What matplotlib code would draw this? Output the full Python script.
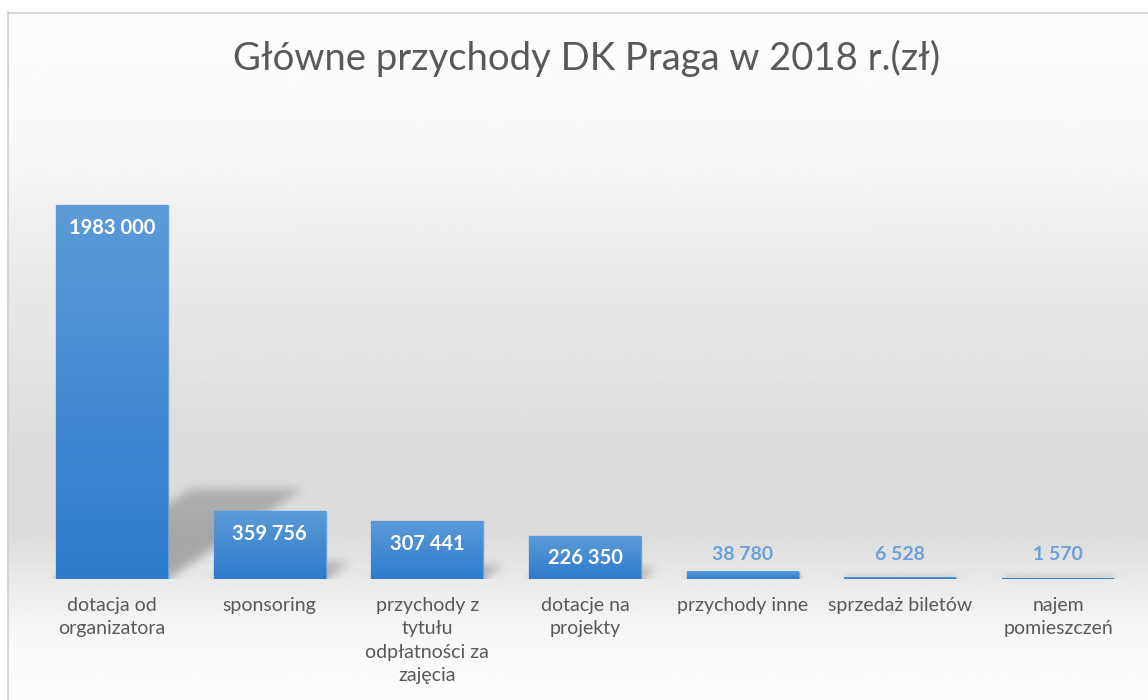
import numpy as np
import matplotlib.pyplot as plt
from matplotlib.colors import LinearSegmentedColormap

categories = ['dotacja od\norganizatora', 'sponsoring',
              'przychody z\ntytułu\nodpłatności za\nzajęcia', 'dotacje na\nprojekty',
              'przychody inne', 'sprzedaż biletów', 'najem\npomieszczeń']
values = [1983000, 359756, 307441, 226350, 38780, 6528, 1570]
value_labels = ['1983 000', '359 756', '307 441', '226 350', '38 780', '6 528', '1 570']
title = 'Główne przychody DK Praga w 2018 r.(zł)'

W, H = 1148, 700
plt.rcParams['font.family'] = ['Lato', 'DejaVu Sans']
fig = plt.figure(figsize=(W / 100, H / 100), dpi=100)

# grey gradient background of the chart area
bg = fig.add_axes([0, 0, 1, 1])
stops_y = [12, 120, 300, 450, 530, 590, 640, 700]
stops_v = [0.99, 0.975, 0.905, 0.86, 0.86, 0.93, 0.975, 0.99]
col = np.interp(np.arange(H), stops_y, stops_v)
bg.imshow(np.repeat(col[:, None], 2, axis=1), cmap='gray', vmin=0, vmax=1,
          extent=(7, W + 10, H, 12), aspect='auto', interpolation='bilinear')
bg.plot([7.5, 7.5], [12, H], color='#d0d0d0', lw=1.2)
bg.plot([7.5, W], [12.5, 12.5], color='#d0d0d0', lw=1.2)
bg.set_xlim(0, W)
bg.set_ylim(H, 0)
bg.axis('off')

fig.text(587 / W, 1 - 58 / H, title, ha='center', va='center',
         fontsize=27.5, color='#595959')

# main axes
ax_w, ax_h = 1104, 479
ax = fig.add_axes([33 / W, (H - 579) / H, ax_w / W, ax_h / H])
ax.patch.set_alpha(0)
ymax = 2540000
x = np.arange(len(values))
bw = 0.71
ax.set_xlim(-0.5, len(values) - 0.5)
ax.set_ylim(0, ymax)

ppx = ax_w / len(values)
ppy = ax_h / ymax

# soft perspective shadows behind the bars
gy, gx = np.mgrid[0:ax_h, 0:ax_w].astype(float)
shadow = np.zeros((ax_h, ax_w))
for i, v in enumerate(values):
    hp = v * ppy
    r = max(0.24 * hp, 1.0)
    s = 0.36 * hp
    xl = (i + 0.5 - bw / 2) * ppx
    xr = (i + 0.5 + bw / 2) * ppx
    off = s * gy / r
    m = (gy < r) & (gx >= xl + off) & (gx <= xr + off)
    shadow = np.maximum(shadow, m * (1 - 0.25 * gy / r))


def box_blur(a, k, axis):
    c = np.cumsum(np.pad(a, [(k + 1, k) if ax_ == axis else (0, 0) for ax_ in range(2)],
                         mode='edge'), axis=axis)
    if axis == 0:
        return (c[2 * k + 1:] - c[:-2 * k - 1]) / (2 * k + 1)
    return (c[:, 2 * k + 1:] - c[:, :-2 * k - 1]) / (2 * k + 1)


for _ in range(3):
    shadow = box_blur(shadow, 4, 0)
    shadow = box_blur(shadow, 4, 1)

rgba = np.zeros((ax_h, ax_w, 4))
rgba[..., :3] = 0.3
rgba[..., 3] = shadow * 0.42
ax.imshow(rgba, extent=(-0.5, len(values) - 0.5, 0, ymax), origin='lower',
          aspect='auto', zorder=1, interpolation='bilinear')

bars = ax.bar(x, values, width=bw, color='#3a85d0', edgecolor='#6aa3dc',
              linewidth=1.0, zorder=2)

bar_cmap = LinearSegmentedColormap.from_list('barg', ['#2e7bcc', '#5b9bd8'])
grad = np.linspace(0, 1, 100)[:, None]
for b in bars:
    x0 = b.get_x()
    ax.imshow(grad, cmap=bar_cmap, origin='lower', aspect='auto',
              extent=(x0, x0 + b.get_width(), 0, b.get_height()), zorder=3)

for i, (v, lab) in enumerate(zip(values, value_labels)):
    hp = v * ppy
    if hp > 30:
        off = -min(23, hp / 2)
        ax.annotate(lab, (x[i], v), xytext=(0, off * 0.72), textcoords='offset points',
                    ha='center', va='center', color='white', fontsize=14.5,
                    fontweight='bold', zorder=5)
    else:
        off = max(24 - hp, 17)
        ax.annotate(lab, (x[i], v), xytext=(0, off * 0.72), textcoords='offset points',
                    ha='center', va='center', color='#6c9fd6', fontsize=14,
                    fontweight='bold', zorder=5)

ax.set_xticks(x, categories)
ax.tick_params(axis='x', length=0, pad=13, labelsize=14, labelcolor='#595959')
for t in ax.get_xticklabels():
    t.set_linespacing(1.45)
ax.set_yticks([])
for sp in ax.spines.values():
    sp.set_visible(False)

fig.savefig('out.png', dpi=100)
